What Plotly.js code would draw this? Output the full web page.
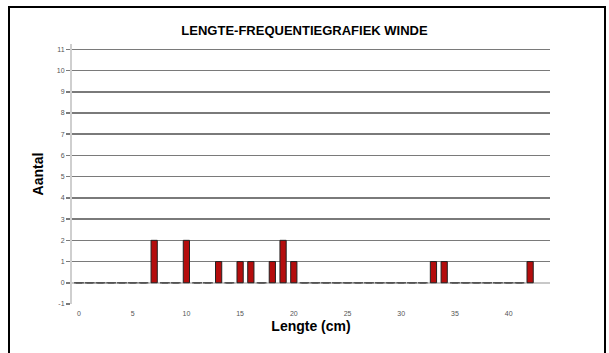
<!DOCTYPE html>
<html><head><meta charset="utf-8">
<script src="https://cdn.plot.ly/plotly-3.0.1.min.js"></script>
<style>
html,body{margin:0;padding:0;background:#fff;}
#frame{position:absolute;left:8px;top:6px;width:598px;height:360px;border:2px solid #000;box-sizing:border-box;}
#chart{position:absolute;left:0;top:0;width:609px;height:353px;}
</style>
</head><body>
<div id="chart"></div>
<div id="frame"></div>
<script>
const lengths = [];
for (let i = 0; i <= 42; i++) lengths.push(i);
const counts = [0,0,0,0,0,0,0,2,0,0,2,0,0,1,0,1,1,0,1,2,1,0,0,0,0,0,0,0,0,0,0,0,0,1,1,0,0,0,0,0,0,0,1];
const yTicks = [-1,0,1,2,3,4,5,6,7,8,9,10,11];
const yGrid = [1,2,3,4,5,6,7,8,9,10,11];
const xTicks = [0,5,10,15,20,25,30,35,40];

const zeroX = lengths.filter((x, i) => counts[i] === 0);
const zeroY = zeroX.map(() => 0);

const traces = [
  {type:'bar', x:lengths, y:counts, width:0.58,
   marker:{color:'#b40d0d', line:{color:'#222', width:1}}, hoverinfo:'x+y'},
  {type:'scatter', mode:'markers', x:zeroX, y:zeroY,
   marker:{symbol:'line-ew', size:7, line:{color:'#555', width:1.5}}, hoverinfo:'skip'}
];

const layout = {
  width:609, height:353,
  margin:{l:72, r:59, t:44, b:49},
  paper_bgcolor:'#fff', plot_bgcolor:'#fff',
  showlegend:false,
  font:{family:'Liberation Sans, Arial, sans-serif'},
  title:{text:'<b>LENGTE-FREQUENTIEGRAFIEK WINDE</b>', x:0.5, xanchor:'center', y:0.915, yanchor:'middle',
         font:{size:13, color:'#000'}},
  xaxis:{range:[-0.65,43.85], tickvals:xTicks, ticktext:xTicks.map(String),
         showgrid:false, zeroline:false, showline:false,
         ticks:'', tickfont:{size:7, color:'#555'}, ticklabelstandoff:4,
         title:{text:'<b>Lengte (cm)</b>', font:{size:14, color:'#000'}, standoff:5}},
  yaxis:{range:[-1,11.25], tickvals:yTicks, ticktext:yTicks.map(String),
         showgrid:false,
         minor:{tickvals:yGrid, showgrid:true, gridcolor:'#7a7a7a', gridwidth:1.5, ticks:''},
         zeroline:true, zerolinecolor:'#c8c8c8', zerolinewidth:1.5,
         showline:true, linecolor:'#cfcfcf', linewidth:2,
         ticks:'outside', ticklen:4, tickcolor:'#7a7a7a', tickwidth:1.5,
         tickfont:{size:7, color:'#555'},
         title:{text:'<b>Aantal</b>', font:{size:14, color:'#000'}, standoff:10}},
  bargap:0.4
};

Plotly.newPlot('chart', traces, layout, {displayModeBar:false, staticPlot:true});
</script>
</body></html>
